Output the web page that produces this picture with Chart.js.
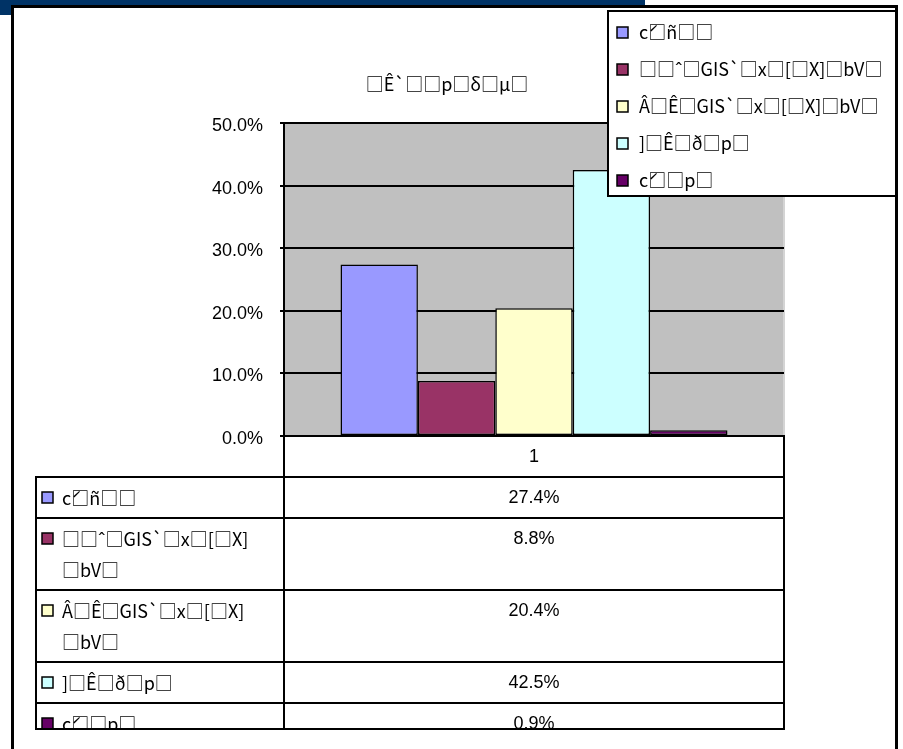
<!DOCTYPE html>
<html>
<head>
<meta charset="utf-8">
<script src="https://cdn.jsdelivr.net/npm/chart.js@4/dist/chart.umd.min.js"></script>
<style>
  html, body { margin: 0; padding: 0; background: #fff; }
  #wrap { width: 903px; height: 749px; }
</style>
</head>
<body>
<div id="wrap"><canvas id="barChart" width="903" height="749"></canvas></div>
<script>
// chart data
const chartTitle = '□Ê`□□p□δ□µ□'
const categories = ['1']
const seriesNames = ['ć□ñ□□', '□□ˆ□GIS`□x□[□X]□bV□', 'Â□Ê□GIS`□x□[□X]□bV□', ']□Ê□ð□p□', 'ć□□p□']
const seriesValues = [27.4, 8.8, 20.4, 42.5, 0.9]
const yTicks = [0, 10, 20, 30, 40, 50]

const seriesColors = ['#9999FF', '#993366', '#FFFFCC', '#CCFFFF', '#660066']
const textFont = '"Noto Sans CJK JP", "Noto Sans", sans-serif'
const numFont = '"Liberation Sans", Arial, sans-serif'

const pct = v => v.toFixed(1) + '%'

// split a label into lines that fit the first table column
function wrapText(ctx, text, maxWidth) {
  const lines = []
  let line = ''
  for (const ch of text) {
    if (line && ctx.measureText(line + ch).width > maxWidth) {
      lines.push(line)
      line = ch
    } else {
      line += ch
    }
  }
  if (line) lines.push(line)
  return lines
}

// page frame + grey plot background
const backdrop = {
  id: 'backdrop',
  beforeDraw(chart) {
    const ctx = chart.ctx
    const a = chart.chartArea
    ctx.save()
    ctx.fillStyle = '#fff'
    ctx.fillRect(0, 0, chart.width, chart.height)
    ctx.fillStyle = '#003366'
    ctx.fillRect(0, 0, 645, 6)
    ctx.fillRect(0, 0, 12, 15)
    ctx.strokeStyle = '#000'
    ctx.lineWidth = 3
    ctx.strokeRect(12.5, 6.5, 884, 800)
    ctx.fillStyle = '#C0C0C0'
    ctx.fillRect(a.left, a.top, a.right - a.left, a.bottom - a.top)
    ctx.fillStyle = '#D4D4D4'
    ctx.fillRect(a.right - 1, a.top, 2, a.bottom - a.top)
    ctx.restore()
  }
}

// title, data table under the axis and the legend box
const extras = {
  id: 'extras',
  afterDraw(chart) {
    const ctx = chart.ctx
    const a = chart.chartArea
    const ds = chart.data.datasets
    const midX = (a.left + a.right) / 2
    ctx.save()

    ctx.fillStyle = '#000'
    ctx.font = '18px ' + textFont
    ctx.textAlign = 'center'
    ctx.textBaseline = 'middle'
    ctx.fillText(chartTitle, 447, 84)

    // table
    const tableLeft = 36
    const clipBottom = 729
    ctx.strokeStyle = '#000'
    ctx.lineWidth = 2
    let y = a.bottom
    const headH = 41
    ctx.strokeRect(a.left, y, a.right - a.left, headH)
    ctx.font = '18px ' + numFont
    ctx.fillText(chart.data.labels[0], midX, y + 21)
    y += headH

    ctx.save()
    ctx.beginPath()
    ctx.rect(0, 0, chart.width, clipBottom)
    ctx.clip()
    ds.forEach(d => {
      ctx.font = '18px ' + textFont
      const lines = wrapText(ctx, d.label, 190)
      const h = 10 + lines.length * 31
      ctx.strokeRect(tableLeft, y, a.left - tableLeft, h)
      ctx.strokeRect(a.left, y, a.right - a.left, h)
      ctx.fillStyle = d.backgroundColor
      ctx.fillRect(42, y + 15, 11, 11)
      ctx.lineWidth = 1.5
      ctx.strokeRect(42, y + 15, 11, 11)
      ctx.lineWidth = 2
      ctx.fillStyle = '#000'
      ctx.textAlign = 'left'
      lines.forEach((ln, i) => ctx.fillText(ln, 62, y + 21 + i * 31))
      ctx.textAlign = 'center'
      ctx.font = '18px ' + numFont
      ctx.fillText(pct(d.data[0]), midX, y + 21)
      y += h
    })
    ctx.restore()
    ctx.beginPath()
    ctx.moveTo(tableLeft - 1, clipBottom)
    ctx.lineTo(a.right + 1, clipBottom)
    ctx.stroke()

    // legend
    ctx.fillStyle = '#fff'
    ctx.fillRect(608, 11, 288, 185)
    ctx.strokeRect(608, 11, 288, 185)
    ctx.font = '18px ' + textFont
    ctx.textAlign = 'left'
    ds.forEach((d, i) => {
      const ly = 32 + i * 37
      ctx.fillStyle = d.backgroundColor
      ctx.fillRect(617, ly - 5, 11, 11)
      ctx.lineWidth = 1.5
      ctx.strokeRect(617, ly - 5, 11, 11)
      ctx.fillStyle = '#000'
      ctx.fillText(d.label, 639, ly)
    })
    ctx.restore()
  }
}

const ctx = document.getElementById('barChart').getContext('2d')
const barChart = new Chart(ctx, {
  type: 'bar',
  data: {
    labels: categories,
    datasets: seriesNames.map((name, i) => ({
      label: name,
      data: [seriesValues[i]],
      backgroundColor: seriesColors[i],
      borderColor: '#000',
      borderWidth: 1.5,
      borderSkipped: false,
      categoryPercentage: 0.774,
      barPercentage: 1
    }))
  },
  options: {
    responsive: false,
    animation: false,
    events: [],
    layout: {
      padding: { left: 0, right: 119, top: 123, bottom: 313 }
    },
    plugins: {
      legend: { display: false },
      title: { display: false },
      tooltip: { enabled: false }
    },
    scales: {
      x: { display: false },
      y: {
        min: yTicks[0],
        max: yTicks[yTicks.length - 1],
        afterFit(scale) { scale.width = 284 },
        afterBuildTicks(scale) { scale.ticks = yTicks.map(v => ({ value: v })) },
        ticks: {
          color: '#000',
          padding: 17,
          labelOffset: 3,
          font: { family: numFont, size: 18 },
          callback: v => pct(v)
        },
        grid: {
          color: '#000',
          lineWidth: 2,
          tickLength: 4
        },
        border: { color: '#000', width: 2 }
      }
    }
  },
  plugins: [backdrop, extras]
})
</script>
</body>
</html>
